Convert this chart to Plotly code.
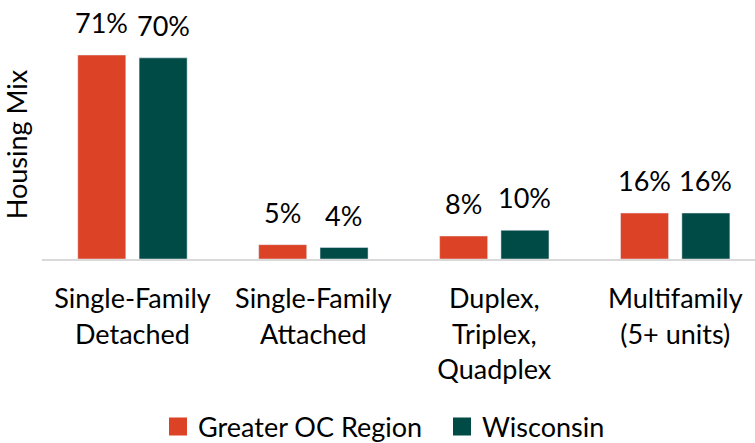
import plotly.graph_objects as go

categories = ["Single-Family<br>Detached", "Single-Family<br>Attached", "Duplex,<br>Triplex,<br>Quadplex", "Multifamily<br>(5+ units)"]
greater_oc = [71, 5, 8, 16]
wisconsin = [70, 4, 10, 16]
series = [("Greater OC Region", greater_oc, "#DC4326", -30.6),
          ("Wisconsin", wisconsin, "#004B46", 30.6)]

FONT = "Lato, Open Sans, sans-serif"
FS = 27

fig = go.Figure()
for name, vals, color, shift in series:
    fig.add_trace(go.Bar(name=name, x=categories, y=vals, marker_color=color,
                         showlegend=False))
    for c, v in zip(categories, vals):
        fig.add_annotation(x=c, y=v, text=f"{v}%", showarrow=False,
                           xshift=shift, yshift=14, yanchor="bottom",
                           font=dict(size=FS, color="#000000"))
# legend entries
for name, vals, color, shift in series:
    fig.add_trace(go.Scatter(name=name, x=[None], y=[None], mode="markers",
                             marker=dict(symbol="square", size=16, color=color,
                                         line=dict(color=color, width=2))))

fig.update_layout(
    width=755, height=443,
    margin=dict(l=42, r=0, t=30, b=184),
    paper_bgcolor="white", plot_bgcolor="white",
    font=dict(family=FONT, size=FS, color="#000000"),
    barmode="group", bargap=0.322, bargroupgap=0.217,
    legend=dict(orientation="h", x=0.1627, xanchor="left", yref="container",
                y=0.036, yanchor="middle", font=dict(size=FS), itemwidth=30,
                entrywidth=239, entrywidthmode="pixels",
                bgcolor="rgba(0,0,0,0)"),
    showlegend=True,
)
fig.update_xaxes(showline=True, linecolor="#D9D9D9", linewidth=2, ticks="",
                 tickfont=dict(size=FS), showgrid=False, automargin=False,
                 range=[-0.5, 3.441], ticklabelstandoff=15)
fig.update_yaxes(range=[0, 79.7], showticklabels=False, showgrid=False, zeroline=False,
                 showline=False, automargin=False,
                 title=dict(text="Housing Mix", font=dict(size=FS), standoff=5))

fig.write_html("out.html", config={"displayModeBar": False},
               post_script="document.body.style.margin='0px';")
